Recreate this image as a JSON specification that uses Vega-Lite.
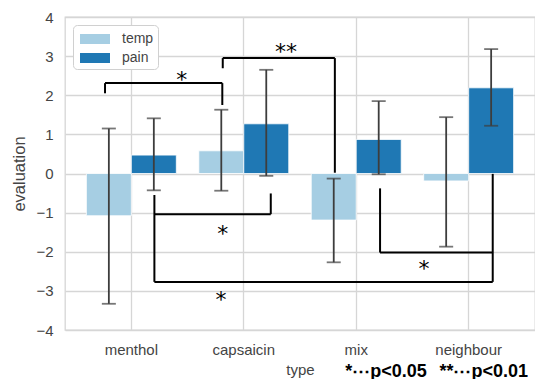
{
  "$schema": "https://vega.github.io/schema/vega-lite/v6.json",
  "autosize": {"type": "none"},
  "padding": {"left": 65, "top": 17, "right": 0, "bottom": 49},
  "width": 470,
  "height": 313,
  "config": {
    "font": "Liberation Sans",
    "view": {"stroke": "#d6d6d6", "strokeWidth": 1.3},
    "axis": {"gridColor": "#d6d6d6", "gridWidth": 1.3, "labelColor": "#444444", "titleColor": "#444444", "labelFontSize": 15, "titleFontSize": 15, "titleFontWeight": "normal", "ticks": false, "domain": false, "labelOverlap": false},
    "axisY": {"labelOverlap": false, "values": [-4, -3, -2, -1, 0, 1, 2, 3, 4], "format": "d", "labelPadding": 12, "titlePadding": 8, "titleFontSize": 16.5}
  },
  "datasets": {
    "bars": [
      {"type": "menthol", "group": "temp", "mean": -1.08, "lo": -3.33, "hi": 1.15},
      {"type": "menthol", "group": "pain", "mean": 0.47, "lo": -0.43, "hi": 1.41},
      {"type": "capsaicin", "group": "temp", "mean": 0.58, "lo": -0.44, "hi": 1.63},
      {"type": "capsaicin", "group": "pain", "mean": 1.27, "lo": -0.06, "hi": 2.65},
      {"type": "mix", "group": "temp", "mean": -1.19, "lo": -2.27, "hi": -0.13},
      {"type": "mix", "group": "pain", "mean": 0.87, "lo": -0.02, "hi": 1.85},
      {"type": "neighbour", "group": "temp", "mean": -0.19, "lo": -1.87, "hi": 1.44},
      {"type": "neighbour", "group": "pain", "mean": 2.19, "lo": 1.22, "hi": 3.18}
    ],
    "brackets": [
      {"x": -0.234, "x2": -0.234, "y": 2.05, "y2": 2.31},
      {"x": -0.234, "x2": 0.809, "y": 2.31, "y2": 2.31},
      {"x": 0.809, "x2": 0.809, "y": 2.31, "y2": 1.75},
      {"x": 0.813, "x2": 0.813, "y": 2.69, "y2": 2.95},
      {"x": 0.813, "x2": 1.81, "y": 2.95, "y2": 2.95},
      {"x": 1.81, "x2": 1.81, "y": 2.95, "y2": 0.02},
      {"x": 0.205, "x2": 0.205, "y": -0.55, "y2": -2.77},
      {"x": 0.205, "x2": 1.24, "y": -1.04, "y2": -1.04},
      {"x": 1.24, "x2": 1.24, "y": -1.04, "y2": -0.51},
      {"x": 2.212, "x2": 2.212, "y": -0.38, "y2": -2.02},
      {"x": 2.212, "x2": 3.214, "y": -2.02, "y2": -2.02},
      {"x": 3.214, "x2": 3.214, "y": -0.01, "y2": -2.77},
      {"x": 0.205, "x2": 3.214, "y": -2.77, "y2": -2.77}
    ],
    "stars": [
      {"x": 0.448, "y": 2.5, "label": "*"},
      {"x": 1.376, "y": 3.2, "label": "**"},
      {"x": 0.813, "y": -1.45, "label": "*"},
      {"x": 2.603, "y": -2.33, "label": "*"},
      {"x": 0.798, "y": -3.13, "label": "*"}
    ],
    "note": [
      {"x": 3.528, "y": -5.07, "label": "*⋯p<0.05\u2002\u2009**⋯p<0.01"}
    ]
  },
  "resolve": {"scale": {"x": "independent"}, "axis": {"x": "independent"}},
  "layer": [
    {
      "data": {"name": "bars"},
      "encoding": {
        "x": {
          "field": "type", "type": "nominal", "sort": ["menthol", "capsaicin", "mix", "neighbour"],
          "scale": {"paddingInner": 0.2, "paddingOuter": 0.19},
          "axis": {"title": "type", "labelAngle": 0, "grid": true, "bandPosition": 0.5, "labelPadding": 12, "titlePadding": 5}
        },
        "xOffset": {"field": "group", "type": "nominal", "scale": {"domain": ["temp", "pain"], "paddingInner": 0, "paddingOuter": 0}}
      },
      "layer": [
        {
          "mark": {"type": "bar", "stroke": "white", "strokeWidth": 0.8},
          "encoding": {
            "y": {"field": "mean", "type": "quantitative", "title": "evaluation",
              "scale": {"domain": [-4, 4], "nice": false},
              "axis": {"values": [-4, -3, -2, -1, 0, 1, 2, 3, 4], "format": "d", "grid": true, "labelOverlap": false}},
            "color": {"field": "group", "type": "nominal",
              "scale": {"domain": ["temp", "pain"], "range": ["#a6cee3", "#1f78b4"]},
              "legend": {"title": null, "orient": "none", "legendX": 8, "legendY": 8,
                "symbolType": "M-1.5,-0.5H1.5V0.5H-1.5Z", "symbolSize": 400, "symbolStrokeWidth": 0, "symbolOffset": 8,
                "labelFontSize": 14, "labelColor": "#444444", "labelOffset": 17,
                "fillColor": "white", "strokeColor": "#d0d0d0", "cornerRadius": 4, "padding": 4, "rowPadding": 2}}
          }
        },
        {
          "mark": {"type": "rule", "color": "#3d3d3d", "strokeWidth": 1.8},
          "encoding": {
            "y": {"field": "lo", "type": "quantitative", "title": "evaluation", "axis": {"values": [-4, -3, -2, -1, 0, 1, 2, 3, 4], "format": "d", "labelOverlap": false}},
            "y2": {"field": "hi"}
          }
        },
        {
          "mark": {"type": "tick", "color": "#3d3d3d", "size": 14, "thickness": 1.8, "orient": "horizontal"},
          "encoding": {"y": {"field": "lo", "type": "quantitative", "title": "evaluation", "axis": {"values": [-4, -3, -2, -1, 0, 1, 2, 3, 4], "format": "d", "labelOverlap": false}}}
        },
        {
          "mark": {"type": "tick", "color": "#3d3d3d", "size": 14, "thickness": 1.8, "orient": "horizontal"},
          "encoding": {"y": {"field": "hi", "type": "quantitative", "title": "evaluation", "axis": {"values": [-4, -3, -2, -1, 0, 1, 2, 3, 4], "format": "d", "labelOverlap": false}}}
        }
      ]
    },
    {
      "encoding": {
        "x": {"field": "x", "type": "quantitative", "scale": {"domain": [-0.59, 3.59], "nice": false, "zero": false}, "axis": null}
      },
      "layer": [
        {
          "data": {"name": "brackets"},
          "mark": {"type": "rule", "color": "black", "strokeWidth": 2},
          "encoding": {
            "x2": {"field": "x2"},
            "y": {"field": "y", "type": "quantitative", "title": "evaluation", "axis": {"values": [-4, -3, -2, -1, 0, 1, 2, 3, 4], "format": "d", "labelOverlap": false}},
            "y2": {"field": "y2"}
          }
        },
        {
          "data": {"name": "stars"},
          "mark": {"type": "text", "font": "DejaVu Sans", "fontSize": 22, "color": "black", "baseline": "middle", "align": "center", "dy": 4},
          "encoding": {
            "y": {"field": "y", "type": "quantitative", "title": "evaluation", "axis": {"values": [-4, -3, -2, -1, 0, 1, 2, 3, 4], "format": "d", "labelOverlap": false}},
            "text": {"field": "label"}
          }
        },
        {
          "data": {"name": "note"},
          "mark": {"type": "text", "font": "Liberation Sans", "fontWeight": "bold", "fontSize": 18, "color": "black", "baseline": "middle", "align": "right", "clip": false},
          "encoding": {
            "y": {"field": "y", "type": "quantitative", "title": "evaluation", "axis": {"values": [-4, -3, -2, -1, 0, 1, 2, 3, 4], "format": "d", "labelOverlap": false}},
            "text": {"field": "label"}
          }
        }
      ]
    }
  ]
}
